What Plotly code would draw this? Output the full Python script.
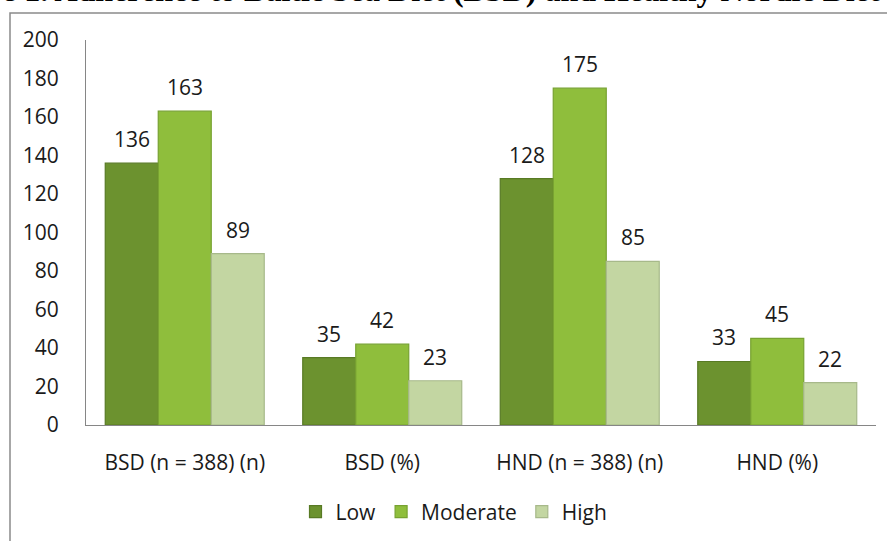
import plotly.graph_objects as go

categories = ["BSD (n = 388) (n)", "BSD (%)", "HND (n = 388) (n)", "HND (%)"]
series_names = ["Low", "Moderate", "High"]
low = [136, 35, 128, 33]
moderate = [163, 42, 175, 45]
high = [89, 23, 85, 22]
series_values = [low, moderate, high]
colors = ["#6c922f", "#8fbe3c", "#c3d6a2"]
edge_colors = ["#587a24", "#77a231", "#a7b98a"]
y_ticks = [0, 20, 40, 60, 80, 100, 120, 140, 160, 180, 200]
title_text = "e 1. Adherence to Baltic Sea Diet (BSD) and Healthy Nordic Diet"

FONT = "Open Sans"
FS = 21
W, H = 887, 541
ML, MR, MT, MB = 86, 11, 40, 116
PW, PH = W - ML - MR, H - MT - MB
bargap = 0.195


def px_x(px):
    return (px - ML) / PW


def px_y(py):
    return (H - MB - py) / PH


fig = go.Figure()
idx = list(range(len(categories)))
for name, vals, c, ec in zip(series_names, series_values, colors, edge_colors):
    fig.add_trace(go.Bar(
        name=name, x=idx, y=vals,
        marker=dict(color=c, line=dict(color=ec, width=1.2)),
    ))

w = (1 - bargap) / len(series_names)
annotations = []
for j, vals in enumerate(series_values):
    for i, v in enumerate(vals):
        annotations.append(dict(
            x=i + (j - 1) * w, y=v, xref="x", yref="y",
            text=str(v), showarrow=False, yanchor="middle", yshift=24,
            font=dict(family=FONT, size=FS, color="#1a1a1a"),
        ))

annotations.append(dict(
    x=px_x(0), y=px_y(10), xref="paper", yref="paper",
    text="<b>" + title_text + "</b>", showarrow=False,
    xanchor="left", yanchor="bottom",
    font=dict(family="Liberation Serif", size=32, color="#000000"),
))

fig.update_layout(
    width=W, height=H,
    margin=dict(l=ML, r=MR, t=MT, b=MB, pad=0, autoexpand=False),
    paper_bgcolor="white", plot_bgcolor="white",
    barmode="group", bargap=bargap, bargroupgap=0,
    font=dict(family=FONT, size=FS, color="#1a1a1a"),
    showlegend=True,
    legend=dict(
        orientation="h", x=px_x(454), xanchor="center",
        y=px_y(512), yanchor="middle",
        font=dict(family=FONT, size=FS, color="#1a1a1a"),
        itemwidth=30, traceorder="normal",
    ),
    annotations=annotations,
    shapes=[dict(
        type="rect", xref="paper", yref="paper",
        x0=px_x(10), x1=px_x(905), y0=px_y(570), y1=px_y(13),
        line=dict(color="#8a8a8a", width=1.5), fillcolor="rgba(0,0,0,0)",
        layer="below",
    )],
)

fig.update_xaxes(
    tickmode="array", tickvals=idx, ticktext=categories,
    range=[-0.5, len(categories) - 0.5],
    showline=True, linecolor="#868686", linewidth=1,
    ticks="", showgrid=False, zeroline=False,
    ticklabelstandoff=19,
    tickfont=dict(family=FONT, size=FS, color="#1a1a1a"),
)
fig.update_yaxes(
    range=[0, 200], tickmode="array", tickvals=y_ticks,
    showline=True, linecolor="#868686", linewidth=1,
    ticks="", showgrid=False, zeroline=False,
    ticklabelstandoff=22,
    tickfont=dict(family=FONT, size=FS, color="#1a1a1a"),
)

fig.write_html("out.html")
